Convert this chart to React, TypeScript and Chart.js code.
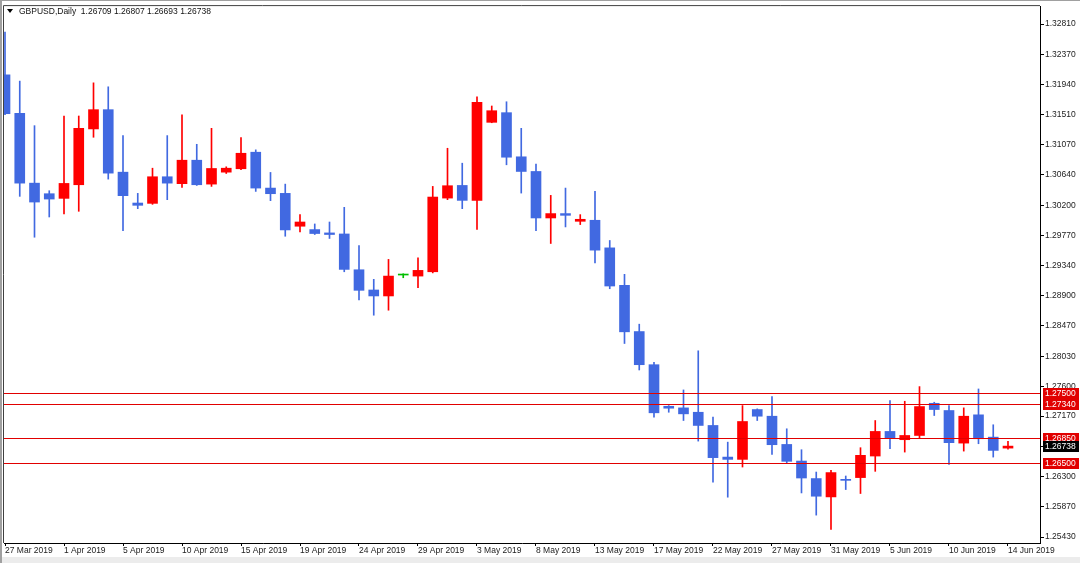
import { useEffect, useRef } from 'react';
import { Chart, registerables } from 'chart.js';

Chart.register(...registerables);

// ---- data ----
const dates = [
  '27 Mar 2019', '28 Mar 2019', '29 Mar 2019', '31 Mar 2019', '1 Apr 2019', '2 Apr 2019', '3 Apr 2019', '4 Apr 2019',
  '5 Apr 2019', '7 Apr 2019', '8 Apr 2019', '9 Apr 2019', '10 Apr 2019', '11 Apr 2019', '12 Apr 2019', '14 Apr 2019',
  '15 Apr 2019', '16 Apr 2019', '17 Apr 2019', '18 Apr 2019', '19 Apr 2019', '21 Apr 2019', '22 Apr 2019', '23 Apr 2019',
  '24 Apr 2019', '25 Apr 2019', '26 Apr 2019', '28 Apr 2019', '29 Apr 2019', '30 Apr 2019', '1 May 2019', '2 May 2019',
  '3 May 2019', '5 May 2019', '6 May 2019', '7 May 2019', '8 May 2019', '9 May 2019', '10 May 2019', '12 May 2019',
  '13 May 2019', '14 May 2019', '15 May 2019', '16 May 2019', '17 May 2019', '19 May 2019', '20 May 2019', '21 May 2019',
  '22 May 2019', '23 May 2019', '24 May 2019', '26 May 2019', '27 May 2019', '28 May 2019', '29 May 2019', '30 May 2019',
  '31 May 2019', '2 Jun 2019', '3 Jun 2019', '4 Jun 2019', '5 Jun 2019', '6 Jun 2019', '7 Jun 2019', '9 Jun 2019',
  '10 Jun 2019', '11 Jun 2019', '12 Jun 2019', '13 Jun 2019', '14 Jun 2019',
];

const opens = [
  1.32079, 1.31525, 1.30521, 1.30369, 1.30302, 1.30498, 1.31301, 1.31578, 1.30679, 1.30235,
  1.30230, 1.30613, 1.30513, 1.30851, 1.30507, 1.30679, 1.30728, 1.30966, 1.30450, 1.30374,
  1.29901, 1.29853, 1.29805, 1.29790, 1.29275, 1.28984, 1.28898, 1.29199, 1.29184, 1.29246,
  1.30306, 1.30488, 1.30273, 1.31396, 1.31535, 1.30900, 1.30689, 1.30020, 1.30083, 1.29972,
  1.29987, 1.29590, 1.29051, 1.28386, 1.27909, 1.27311, 1.27288, 1.27225, 1.27035, 1.26580,
  1.26547, 1.27264, 1.27168, 1.26762, 1.26523, 1.26271, 1.26007, 1.26260, 1.26285, 1.26595,
  1.26949, 1.26830, 1.26891, 1.27354, 1.27250, 1.26781, 1.27188, 1.26867, 1.26709,
];
const highs = [
  1.32695, 1.31989, 1.31348, 1.30412, 1.31487, 1.31487, 1.31964, 1.31907, 1.31205, 1.30374,
  1.30736, 1.31205, 1.31502, 1.31080, 1.31310, 1.30756, 1.31176, 1.31000, 1.30675, 1.30507,
  1.30068, 1.29934, 1.29962, 1.30173, 1.29624, 1.29137, 1.29424, 1.29217, 1.29447, 1.30474,
  1.31023, 1.30808, 1.31764, 1.31631, 1.31692, 1.31310, 1.30794, 1.30345, 1.30450, 1.30068,
  1.30402, 1.29696, 1.29209, 1.28492, 1.27942, 1.27321, 1.27546, 1.28109, 1.27154, 1.26795,
  1.27321, 1.27274, 1.27450, 1.26987, 1.26686, 1.26365, 1.26390, 1.26308, 1.26715, 1.27106,
  1.27393, 1.27383, 1.27594, 1.27369, 1.27321, 1.27288, 1.27560, 1.27045, 1.26807,
];
const lows = [
  1.31506, 1.30331, 1.29743, 1.30034, 1.30077, 1.30116, 1.31181, 1.30579, 1.29839, 1.30154,
  1.30216, 1.30283, 1.30460, 1.30488, 1.30474, 1.30660, 1.30715, 1.30402, 1.30269, 1.29757,
  1.29819, 1.29782, 1.29725, 1.29246, 1.28840, 1.28621, 1.28693, 1.29160, 1.29017, 1.29230,
  1.30283, 1.30154, 1.29854, 1.31390, 1.30785, 1.30378, 1.29839, 1.29653, 1.29891, 1.29925,
  1.29375, 1.29002, 1.28214, 1.27833, 1.27154, 1.27225, 1.27106, 1.26810, 1.26218, 1.26003,
  1.26437, 1.27106, 1.26619, 1.26486, 1.26064, 1.25745, 1.25540, 1.26113, 1.26056, 1.26375,
  1.26701, 1.26652, 1.26858, 1.27178, 1.26476, 1.26666, 1.26772, 1.26580, 1.26693,
];
const closes = [
  1.31520, 1.30521, 1.30249, 1.30292, 1.30517, 1.31310, 1.31578, 1.30665, 1.30341, 1.30202,
  1.30613, 1.30521, 1.30851, 1.30498, 1.30732, 1.30736, 1.30951, 1.30450, 1.30369, 1.29848,
  1.29962, 1.29796, 1.29782, 1.29280, 1.28979, 1.28898, 1.29184, 1.29199, 1.29266, 1.30321,
  1.30484, 1.30273, 1.31682, 1.31563, 1.30894, 1.30689, 1.30020, 1.30083, 1.30058, 1.30001,
  1.29557, 1.29041, 1.28382, 1.27909, 1.27217, 1.27283, 1.27202, 1.27035, 1.26572, 1.26547,
  1.27092, 1.27168, 1.26758, 1.26519, 1.26279, 1.26017, 1.26357, 1.26245, 1.26605, 1.26949,
  1.26853, 1.26891, 1.27307, 1.27264, 1.26787, 1.27168, 1.26844, 1.26676, 1.26738,
];

const yTickValues = [
  1.3281, 1.3237, 1.3194, 1.3151, 1.3107, 1.3064, 1.302, 1.2977, 1.2934,
  1.289, 1.2847, 1.2803, 1.276, 1.2717, 1.2673, 1.263, 1.2587, 1.2543,
];
const levelLines = [1.275, 1.2734, 1.2685, 1.265];
const lastPrice = 1.26738;
const symbolTitle = 'GBPUSD,Daily';
const xLabelStep = 4;

// ---- styles ----
const BULL = 'rgb(255,0,0)';
const BEAR = 'rgb(65,105,225)';
const DOJI = 'rgb(0,190,0)';
const LEVEL = 'rgb(225,0,0)';
const FONT = '"Liberation Sans", Arial, sans-serif';

const candleColor = (i: number) =>
  closes[i] > opens[i] ? BULL : closes[i] < opens[i] ? BEAR : DOJI;

const decorPlugin = {
  id: 'decor',
  beforeDraw(chart: any) {
    const { ctx, width, height } = chart;
    ctx.save();
    ctx.fillStyle = '#ffffff';
    ctx.fillRect(0, 0, width, height);
    ctx.fillStyle = '#ececec';
    ctx.fillRect(0, height - 6, width, 6);
    ctx.fillStyle = '#a0a0a0';
    ctx.fillRect(0, 0, 2, height);
    ctx.fillRect(0, 0, width, 1);
    ctx.restore();
  },
  afterDatasetsDraw(chart: any) {
    const { ctx, chartArea } = chart;
    const y = chart.scales.y;
    ctx.save();
    ctx.strokeStyle = LEVEL;
    ctx.lineWidth = 1;
    levelLines.forEach((v) => {
      const py = Math.round(y.getPixelForValue(v)) + 0.5;
      ctx.beginPath();
      ctx.moveTo(chartArea.left, py);
      ctx.lineTo(chartArea.right, py);
      ctx.stroke();
    });
    ctx.restore();
  },
  afterDraw(chart: any) {
    const { ctx, chartArea } = chart;
    const y = chart.scales.y;
    ctx.save();
    // frame top/left
    ctx.strokeStyle = '#404040';
    ctx.lineWidth = 1;
    ctx.beginPath();
    ctx.moveTo(chartArea.left - 0.5, chartArea.bottom);
    ctx.lineTo(chartArea.left - 0.5, chartArea.top - 0.5);
    ctx.lineTo(chartArea.right, chartArea.top - 0.5);
    ctx.stroke();
    // price boxes
    ctx.font = `8.5px ${FONT}`;
    ctx.textBaseline = 'middle';
    ctx.textAlign = 'left';
    const box = (v: number, bg: string) => {
      const py = Math.round(y.getPixelForValue(v));
      ctx.fillStyle = bg;
      ctx.fillRect(chartArea.right + 3, py - 5, 36, 11);
      ctx.fillStyle = '#ffffff';
      ctx.fillText(v.toFixed(5), chartArea.right + 5, py + 0.5);
    };
    levelLines.forEach((v) => box(v, LEVEL));
    box(lastPrice, '#000000');
    // header
    ctx.fillStyle = '#000000';
    ctx.beginPath();
    ctx.moveTo(7, 9);
    ctx.lineTo(13, 9);
    ctx.lineTo(10, 13);
    ctx.closePath();
    ctx.fill();
    ctx.fillStyle = '#111111';
    const n = opens.length - 1;
    const hdr = `${symbolTitle}  ${opens[n].toFixed(5)} ${highs[n].toFixed(5)} ${lows[n].toFixed(5)} ${closes[n].toFixed(5)}`;
    ctx.fillText(hdr, 19, 12);
    ctx.restore();
  },
};

export default function App() {
  const canvasRef = useRef<HTMLCanvasElement | null>(null);

  useEffect(() => {
    if (!canvasRef.current) return;
    const colors = opens.map((_, i) => candleColor(i));
    const chart = new Chart(canvasRef.current, {
      type: 'bar',
      data: {
        datasets: [
          {
            label: 'wick',
            data: opens.map((_, i) => ({ x: i, y: [lows[i], highs[i]] })) as any,
            backgroundColor: colors,
            borderWidth: 0,
            barThickness: 1,
            grouped: false,
            order: 2,
          },
          {
            label: 'body',
            data: opens.map((_, i) => ({ x: i, y: [opens[i], closes[i]] })) as any,
            backgroundColor: colors,
            borderWidth: 0,
            barThickness: 10,
            minBarLength: 1,
            grouped: false,
            order: 1,
          },
        ],
      },
      options: {
        responsive: false,
        animation: false,
        events: [],
        layout: { padding: { left: 4, top: 4, right: 0, bottom: 0 } },
        plugins: { legend: { display: false }, tooltip: { enabled: false } },
        scales: {
          x: {
            type: 'linear',
            offset: false,
            min: -0.068,
            max: 70.17,
            grid: { display: true, drawOnChartArea: false, drawTicks: true, tickLength: 3, color: '#000', offset: false },
            border: { display: true, color: '#000', width: 1 },
            afterBuildTicks: (scale: any) => {
              const t = [];
              for (let i = 0; i < dates.length; i += xLabelStep) t.push({ value: i });
              scale.ticks = t;
            },
            afterFit: (scale: any) => {
              scale.height = 20;
            },
            ticks: {
              autoSkip: false,
              maxRotation: 0,
              minRotation: 0,
              align: 'start',
              padding: 0,
              color: '#222',
              font: { family: FONT, size: 8.5 },
              callback: (v: any) => dates[v] ?? '',
            },
          },
          y: {
            type: 'linear',
            position: 'right',
            min: 1.25344,
            max: 1.33068,
            grid: { display: true, drawOnChartArea: false, drawTicks: true, tickLength: 4, color: '#000' },
            border: { display: true, color: '#000', width: 1 },
            afterBuildTicks: (scale: any) => {
              scale.ticks = yTickValues.map((v) => ({ value: v }));
            },
            afterFit: (scale: any) => {
              scale.width = 40;
            },
            ticks: {
              autoSkip: false,
              padding: 1,
              color: '#222',
              font: { family: FONT, size: 8.5 },
              callback: (v: any) => Number(v).toFixed(5),
            },
          },
        },
      } as any,
      plugins: [decorPlugin],
    });
    return () => chart.destroy();
  }, []);

  return (
    <div style={{ position: 'absolute', left: 0, top: 0, width: 1080, height: 563 }}>
      <canvas ref={canvasRef} width={1080} height={563} />
    </div>
  );
}
